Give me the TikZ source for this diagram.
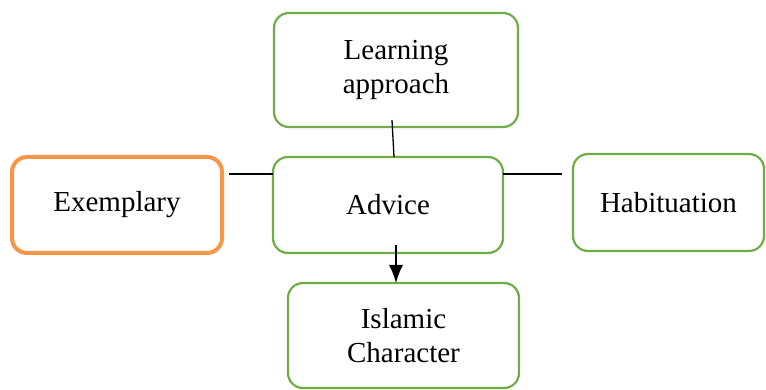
\documentclass[tikz,border=0pt]{standalone}
\usepackage{fontspec}
\setmainfont{Liberation Serif}
\usepackage{xcolor}
\usepackage{tikz}
\usetikzlibrary{arrows.meta,positioning,calc}

\definecolor{boxgreen}{HTML}{70AD47}
\definecolor{boxorange}{HTML}{F79646}

\tikzset{
  stage/.style={draw=boxgreen, line width=2.2pt, rounded corners=15pt, fill=white,
    outer sep=0pt, align=center, font=\fontsize{29}{34}\selectfont},
  keystage/.style={stage, draw=boxorange, line width=4pt},
  link/.style={black, line width=1.3pt}
}

\begin{document}
\begin{tikzpicture}[x=1pt,y=-1pt]
  \useasboundingbox (0,0) rectangle (766,390); %整个画面的大小
  \node[stage, minimum width=244pt, minimum height=114pt] (learn) at (396,70) {Learning\\approach};
  \node[stage, minimum width=230pt, minimum height=96pt] (advice) at (388,205) {Advice};
  \node[keystage, minimum width=210pt, minimum height=96pt] (exemplary) at (117,205) {Exemplary};
  \node[stage, minimum width=191pt, minimum height=97pt] (habit) at (668.5,202.5) {Habituation};
  \node[stage, minimum width=231pt, minimum height=105pt] (islamic) at (403.5,335.5) {Islamic\\Character};
  \draw[link] ([xshift=-4pt,yshift=7pt]learn.south) -- ([xshift=6pt]advice.north);
  \draw[link] ([yshift=-17pt]advice.north west) -- ([xshift=7pt,yshift=-17pt]exemplary.north east);
  \draw[link] ([yshift=-17pt]advice.north east) -- ([xshift=-11pt,yshift=-20pt]habit.north west);
  \draw[link,-{Latex[length=18pt,width=14pt]}] ([xshift=8pt,yshift=8pt]advice.south) -- ([xshift=-7.5pt]islamic.north); %箭头指向下方
\end{tikzpicture}
\end{document}
